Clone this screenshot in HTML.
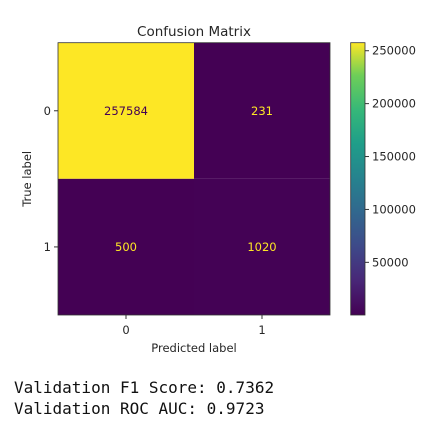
<!DOCTYPE html>
<html><head><meta charset="utf-8"><style>
body{margin:0;background:#fff;width:430px;height:430px;overflow:hidden}
svg{display:block}
.t{font-family:"DejaVu Sans","Liberation Sans",sans-serif;font-size:11.5px;fill:#262626}
</style></head><body>
<svg width="430" height="430">
<defs><linearGradient id="vir" x1="0" y1="1" x2="0" y2="0">
<stop offset="0" stop-color="#440154"/><stop offset="0.13" stop-color="#482878"/><stop offset="0.25" stop-color="#3e4989"/><stop offset="0.38" stop-color="#31688e"/><stop offset="0.5" stop-color="#26828e"/><stop offset="0.63" stop-color="#1f9e89"/><stop offset="0.75" stop-color="#35b779"/><stop offset="0.88" stop-color="#6ece58"/><stop offset="1" stop-color="#fde725"/></linearGradient></defs>
<g id="chart"></g>
<text x="14" y="393" style="font-family:'DejaVu Sans Mono','Liberation Mono',monospace;font-size:16px;fill:#111">Validation F1 Score: 0.7362</text>
<text x="14" y="414" style="font-family:'DejaVu Sans Mono','Liberation Mono',monospace;font-size:16px;fill:#111">Validation ROC AUC: 0.9723</text>
</svg>
<script>
const classes=["0","1"];
const matrixValues=[[257584,231],[500,1020]];
const cbTicks=[50000,100000,150000,200000,250000];
const cbLabels=["50000","100000","150000","200000","250000"];
const NS="http://www.w3.org/2000/svg";
const g=document.getElementById('chart');
function mk(t,a,txt){const e=document.createElementNS(NS,t);for(const k in a)e.setAttribute(k,a[k]);if(txt!==undefined)e.textContent=txt;g.appendChild(e);return e;}
const X0=58,Y0=42.7,W=272,H=272.3;
const n=classes.length,cw=W/n,ch=H/n;
const flat=matrixValues.flat(),vmin=Math.min(...flat),vmax=Math.max(...flat);
function vir(t){const s=[[68,1,84],[72,40,120],[62,73,137],[49,104,142],[38,130,142],[31,158,137],[53,183,121],[110,206,88],[253,231,37]];const p=t*(s.length-1),i=Math.min(Math.floor(p),s.length-2),f=p-i;return 'rgb('+s[i].map((c,j)=>Math.round(c+(s[i+1][j]-c)*f)).join(',')+')';}
function cx(j){return X0+cw*(j+0.5);} function cy(i){return Y0+ch*(i+0.5);}
for(let i=0;i<n;i++)for(let j=0;j<n;j++){const v=matrixValues[i][j],t=(v-vmin)/(vmax-vmin);
let r=mk('rect',{x:X0+cw*j,y:Y0+ch*i,width:cw,height:ch,fill:vir(t)});


let tx=mk('text',{x:cx(j),y:cy(i)+4,'text-anchor':'middle',class:'t',style:'fill:'+(t>0.5?'#440154':'#fde725')},String(v));

}
let fr=mk('rect',{x:X0,y:Y0,width:W,height:H,fill:'none',stroke:'#333','stroke-width':0.8});


classes.forEach((c,k)=>{
mk('line',{x1:cx(k),x2:cx(k),y1:Y0+H,y2:Y0+H+4,stroke:'#333'});
let a=mk('text',{x:cx(k),y:334,'text-anchor':'middle',class:'t'},c);


mk('line',{x1:X0-4,x2:X0,y1:cy(k),y2:cy(k),stroke:'#333'});
let b=mk('text',{x:X0-7,y:cy(k)+4,'text-anchor':'end',class:'t'},c);

});
let ti=mk('text',{x:X0+W/2,y:36,'text-anchor':'middle',class:'t',style:'font-size:13.5px'},'Confusion Matrix');


let xl=mk('text',{x:X0+W/2,y:352,'text-anchor':'middle',class:'t'},'Predicted label');


let yl=mk('text',{x:31,y:Y0+H/2,'text-anchor':'middle',class:'t',transform:'rotate(-90 31 '+(Y0+H/2)+')'},'True label');


const CX=350.7,CW=14.3;
function cby(v){return Y0+H-(v-vmin)/(vmax-vmin)*H;}
let cb=mk('rect',{x:CX,y:Y0,width:CW,height:H,fill:'url(#vir)',stroke:'#333','stroke-width':0.8});


cbTicks.forEach((v,k)=>{const y=cby(v);
mk('line',{x1:CX+CW,x2:CX+CW+4,y1:y,y2:y,stroke:'#333'});
let l=mk('text',{x:CX+CW+7,y:y+4,class:'t'},cbLabels[k]);

});
</script>
</body></html>
